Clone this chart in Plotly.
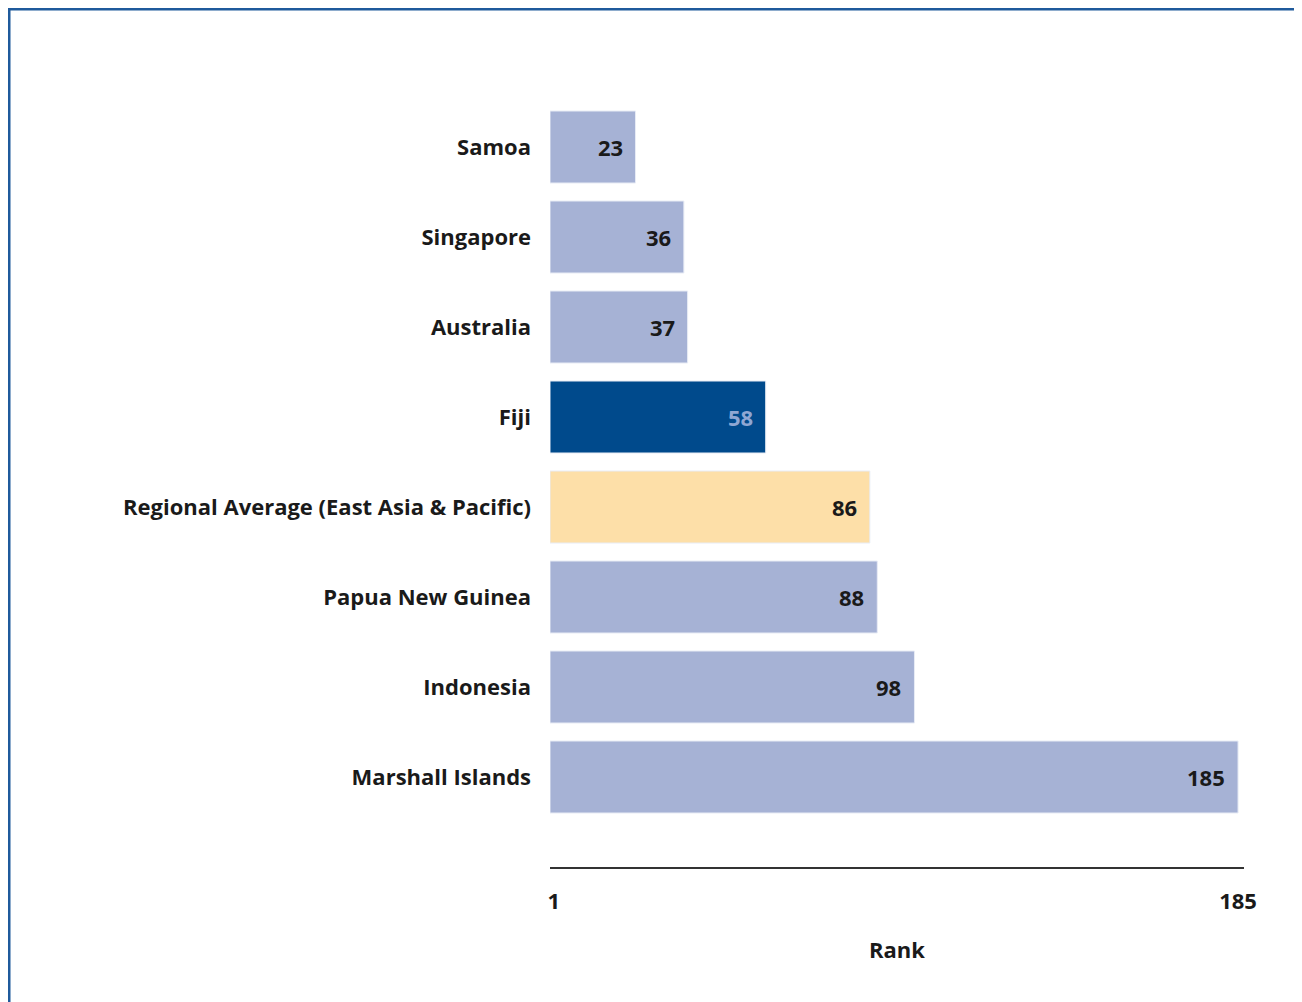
import plotly.graph_objects as go

categories = ["Samoa", "Singapore", "Australia", "Fiji",
              "Regional Average (East Asia & Pacific)",
              "Papua New Guinea", "Indonesia", "Marshall Islands"]
ranks = [23, 36, 37, 58, 86, 88, 98, 185]
bar_colors = ["#a6b2d5", "#a6b2d5", "#a6b2d5", "#004a8c",
              "#fddfa8", "#a6b2d5", "#a6b2d5", "#a6b2d5"]
label_colors = ["#1a1a1a", "#1a1a1a", "#1a1a1a", "#8fa7d3",
                "#1a1a1a", "#1a1a1a", "#1a1a1a", "#1a1a1a"]
tick_vals = [1, 185]
tick_text = ["1", "185"]
axis_title = "Rank"

FONT = "Open Sans"
FS = 22
W, H = 1294, 994
L, R, T, B = 542, 58, 49, 135
PW = W - L - R
PH = H - T - B

fig = go.Figure()
fig.add_trace(go.Bar(
    x=ranks, y=categories, orientation="h",
    marker=dict(color=bar_colors, line=dict(color="#e8ecf5", width=1)),
    width=0.8, hoverinfo="x+y",
))

for c, v, col in zip(categories, ranks, label_colors):
    fig.add_annotation(x=v, y=c, text=f"<b>{v}</b>", showarrow=False,
                       xanchor="right", xshift=-11,
                       font=dict(family=FONT, size=FS, color=col))

fig.update_layout(
    width=W, height=H,
    margin=dict(l=L, r=R, t=T, b=B),
    plot_bgcolor="white", paper_bgcolor="white",
    showlegend=False,
    font=dict(family=FONT, size=FS, color="#1a1a1a"),
    xaxis=dict(range=[0, 186.6], tickvals=tick_vals,
               ticktext=[f"<b>{t}</b>" for t in tick_text],
               showgrid=False, zeroline=False,
               showline=True, linecolor="#333333", linewidth=2,
               ticks="", ticklabelstandoff=14,
               title=dict(text=f"<b>{axis_title}</b>", standoff=28,
                          font=dict(family=FONT, size=FS, color="#1a1a1a")),
               tickfont=dict(family=FONT, size=FS, color="#1a1a1a")),
    yaxis=dict(categoryorder="array", categoryarray=categories,
               range=[8, -1], showgrid=False, zeroline=False,
               showline=False, ticks="", ticklabelstandoff=18,
               tickfont=dict(family=FONT, size=FS, color="#1a1a1a"),
               tickvals=categories,
               ticktext=[f"<b>{c}</b>" for c in categories]),
    shapes=[dict(type="rect", xref="paper", yref="paper",
                 x0=(-L + 1) / PW, x1=(W - L + 20) / PW,
                 y0=-(B + 20) / PH, y1=1 + (T - 1) / PH,
                 line=dict(color="#1f5a9c", width=3), layer="above")],
)

fig.write_html("out.html")
